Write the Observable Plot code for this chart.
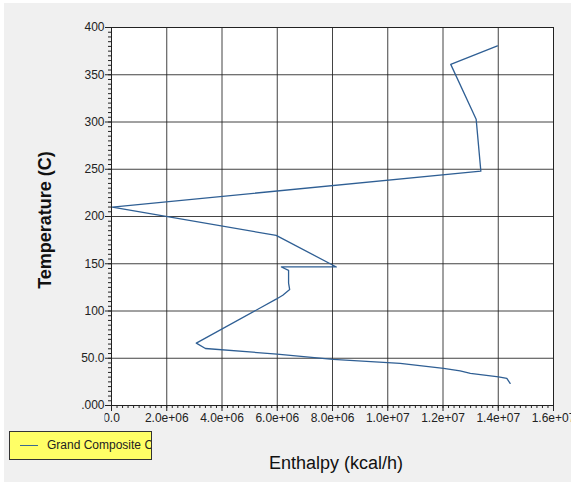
<!DOCTYPE html>
<html>
<head>
<meta charset="utf-8">
<script src="https://cdn.jsdelivr.net/npm/d3@7"></script>
<script src="https://cdn.jsdelivr.net/npm/@observablehq/plot@0.6"></script>
<style>
  html, body { margin: 0; padding: 0; background: #ffffff; overflow: hidden; }
  #wrap { position: relative; width: 571px; height: 482px; }
  #bg { position: absolute; left: 4px; top: 3px; right: 0; bottom: 0; background: #f0f0f0; }
  #chart { position: absolute; left: 0; top: 0; }
  #legend { position: absolute; left: 9px; top: 431px; width: 141px; height: 27px;
    background: #ffff66; border: 1px solid #333; overflow: hidden;
    font-family: "Liberation Sans", Arial, sans-serif; font-size: 12px; color: #222; white-space: nowrap; }
  #legend .sw { position: absolute; left: 10px; top: 13px; width: 18px; height: 0; border-top: 1px solid #3b6a8f; }
  #legend .tx { position: absolute; left: 37px; top: 6px; }
</style>
</head>
<body>
<div id="wrap">
  <div id="bg"></div>
  <div id="chart"></div>
  <div id="legend"><div class="sw"></div><div class="tx">Grand Composite Curve</div></div>
</div>
<script>
// Grand composite curve
const enthalpy = [1.397e7, 1.228e7, 1.320e7, 1.337e7, 0.03e6, 5.96e6, 8.14e6, 6.15e6, 6.41e6, 6.41e6,
  6.45e6, 6.20e6, 5.96e6, 3.07e6, 3.40e6, 5.99e6, 8.02e6, 1.045e7, 1.202e7, 1.262e7, 1.299e7,
  1.401e7, 1.431e7, 1.443e7];
const temperature = [380.5, 361, 303, 248, 210, 180, 146.6, 146.6, 143, 129.4,
  122.7, 116.7, 112.5, 66, 60.3, 54.4, 48.8, 44.6, 39.3, 36.7, 34,
  30.4, 28.7, 23.4];

const xTicks = [0, 2e6, 4e6, 6e6, 8e6, 1e7, 1.2e7, 1.4e7, 1.6e7];
const xTickLabels = ["0.0", "2.0e+06", "4.0e+06", "6.0e+06", "8.0e+06", "1.0e+07", "1.2e+07", "1.4e+07", "1.6e+07"];
const yTicks = [0, 50, 100, 150, 200, 250, 300, 350, 400];
const yTickLabels = [".000", "50.0", "100", "150", "200", "250", "300", "350", "400"];
const xMinor = d3.range(0, 1.6e7 + 1, 2e5);
const yMinor = d3.range(0, 401, 5);

const data = enthalpy.map((e, i) => ({enthalpy: e, temperature: temperature[i]}));

const chart = Plot.plot({
  width: 571,
  height: 482,
  marginLeft: 111,
  marginRight: 18,
  marginTop: 27,
  marginBottom: 77,
  style: {background: "transparent", fontFamily: "'Liberation Sans', Arial, sans-serif", fontSize: "12px", color: "#222", overflow: "visible"},
  x: {domain: [0, 1.6e7]},
  y: {domain: [0, 400]},
  marks: [
    Plot.frame({fill: "white", stroke: null}),
    Plot.gridX(xTicks, {stroke: "#222", strokeOpacity: 0.85, strokeWidth: 1}),
    Plot.gridY(yTicks, {stroke: "#222", strokeOpacity: 0.85, strokeWidth: 1}),
    Plot.line(data, {x: "enthalpy", y: "temperature", stroke: "#2f5f94", strokeWidth: 1.3}),
    Plot.frame({stroke: "#222"}),
    Plot.axisX(xMinor, {tickSize: 3, tickFormat: () => "", label: null, stroke: "#222"}),
    Plot.axisY(yMinor, {tickSize: 3, tickFormat: () => "", label: null, stroke: "#222"}),
    Plot.axisX(xTicks, {tickSize: 6, tickPadding: 2, tickFormat: d => xTickLabels[xTicks.indexOf(d)], label: null, stroke: "#222", fill: "#222", fontSize: 12}),
    Plot.axisY(yTicks, {tickSize: 6, tickPadding: 1, tickFormat: d => yTickLabels[yTicks.indexOf(d)], label: null, stroke: "#222", fill: "#222", fontSize: 12})
  ]
});

document.getElementById("chart").appendChild(chart);

const svg = d3.select(chart);
// clip x tick labels like the original (first label cut at left)
svg.append("defs").append("clipPath").attr("id", "xlabclip")
  .append("rect").attr("x", 104).attr("y", 400).attr("width", 467).attr("height", 40);
svg.selectAll('g[aria-label="x-axis tick label"]').attr("clip-path", "url(#xlabclip)");

svg.append("text")
  .attr("x", 336).attr("y", 469)
  .attr("text-anchor", "middle")
  .attr("font-family", "'Liberation Sans', Arial, sans-serif")
  .attr("font-size", 18)
  .attr("fill", "#111")
  .text("Enthalpy (kcal/h)");

svg.append("text")
  .attr("transform", "translate(51,220) rotate(-90)")
  .attr("text-anchor", "middle")
  .attr("font-family", "'Liberation Sans', Arial, sans-serif")
  .attr("font-size", 18)
  .attr("font-weight", "bold")
  .attr("fill", "#111")
  .text("Temperature (C)");
</script>
</body>
</html>
